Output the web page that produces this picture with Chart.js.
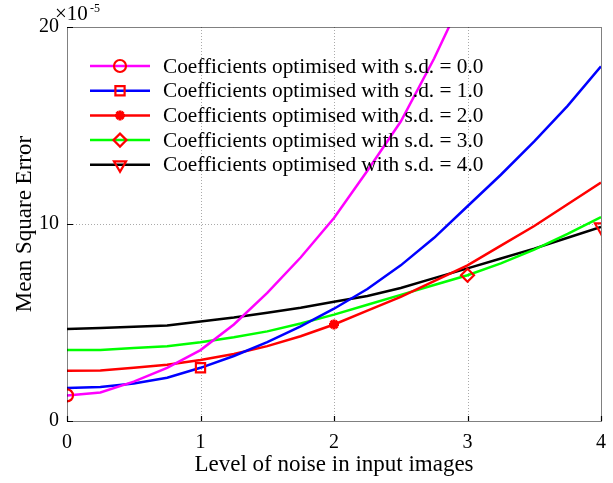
<!DOCTYPE html>
<html>
<head>
<meta charset="utf-8">
<script src="https://cdn.jsdelivr.net/npm/chart.js@4/dist/chart.umd.min.js"></script>
<style>
	html, body { margin: 0; padding: 0; background: #fff; }
	#wrap { width: 613px; height: 483px; }
</style>
</head>
<body>
<div id="wrap"><canvas id="c" width="613" height="483"></canvas></div>
<script>
// noise levels (x)
var noise = [0, 0.25, 0.5, 0.75, 1, 1.25, 1.5, 1.75, 2, 2.25, 2.5, 2.75, 3, 3.25, 3.5, 3.75, 4];

// mean square error, units of 1e-5
var sd0 = [1.3, 1.45, 2.0, 2.7, 3.6, 4.9, 6.5, 8.3, 10.3, 12.7, 15.2, 18.4, 22.0, 26.0, 30.5, 35.5, 41.0];
var sd1 = [1.68, 1.73, 1.9, 2.2, 2.7, 3.3, 4.0, 4.8, 5.7, 6.7, 7.9, 9.3, 10.9, 12.5, 14.2, 16.0, 18.0];
var sd2 = [2.55, 2.56, 2.7, 2.85, 3.1, 3.4, 3.8, 4.3, 4.9, 5.6, 6.3, 7.1, 7.9, 8.9, 9.9, 11.0, 12.1];
var sd3 = [3.6, 3.6, 3.7, 3.8, 4.0, 4.25, 4.55, 4.95, 5.4, 5.9, 6.4, 6.9, 7.4, 8.0, 8.7, 9.5, 10.35];
var sd4 = [4.67, 4.72, 4.78, 4.85, 5.05, 5.25, 5.5, 5.75, 6.05, 6.35, 6.75, 7.25, 7.75, 8.25, 8.75, 9.3, 9.85];

var seriesNames = [
	'Coefficients optimised with s.d. = 0.0',
	'Coefficients optimised with s.d. = 1.0',
	'Coefficients optimised with s.d. = 2.0',
	'Coefficients optimised with s.d. = 3.0',
	'Coefficients optimised with s.d. = 4.0'
];
var markerAt = [0, 1, 2, 3, 4];   // noise level where each series shows its marker
var xTicks = [0, 1, 2, 3, 4];
var yTicks = [0, 10, 20];

var serif = '"Liberation Serif", "DejaVu Serif", serif';

function pts(vals) {
	return vals.map(function(v, i) { return { x: noise[i], y: v }; });
}

function radii(at, r) {
	return noise.map(function(x) { return x === at ? r : 0; });
}

var styles = [
	{ color: '#ff00ff', point: 'circle', r: 6, rot: 0 },
	{ color: '#0000ff', point: 'rect', r: 6.5, rot: 0 },
	{ color: '#ff0000', point: 'star', r: 5, rot: 0 },
	{ color: '#00ff00', point: 'rectRot', r: 6.5, rot: 0 },
	{ color: '#000000', point: 'triangle', r: 7, rot: 180 }
];

var values = [sd0, sd1, sd2, sd3, sd4];

var datasets = values.map(function(v, i) {
	var s = styles[i];
	return {
		label: seriesNames[i],
		data: pts(v),
		borderColor: s.color,
		borderWidth: 2.5,
		pointStyle: s.point,
		pointRotation: s.rot,
		pointRadius: radii(markerAt[i], s.r),
		pointBorderColor: '#ff0000',
		pointBackgroundColor: s.point === 'star' ? '#ff0000' : 'rgba(0,0,0,0)',
		pointBorderWidth: s.point === 'star' ? 3 : 2.2,
		pointHoverRadius: 0,
		tension: 0
	};
});

var frame = {
	id: 'frame',
	beforeDatasetsDraw: function(chart) {
		var ctx = chart.ctx, a = chart.chartArea;
		var xs = chart.scales.x, ys = chart.scales.y;
		ctx.save();
		ctx.strokeStyle = '#aaaaaa';
		ctx.lineWidth = 1;
		ctx.setLineDash([1, 2]);
		ctx.beginPath();
		xTicks.slice(1, -1).forEach(function(t) {
			var px = Math.round(xs.getPixelForValue(t)) + 0.5;
			ctx.moveTo(px, a.top); ctx.lineTo(px, a.bottom);
		});
		yTicks.slice(1, -1).forEach(function(t) {
			var py = Math.round(ys.getPixelForValue(t)) + 0.5;
			ctx.moveTo(a.left, py); ctx.lineTo(a.right, py);
		});
		ctx.stroke();
		ctx.restore();
	},
	afterDraw: function(chart) {
		var ctx = chart.ctx, a = chart.chartArea;
		ctx.save();
		// dotted box
		ctx.strokeStyle = '#000';
		ctx.lineWidth = 1;
		ctx.setLineDash([1, 1]);
		ctx.strokeRect(Math.round(a.left) + 0.5, Math.round(a.top) + 0.5, Math.round(a.right - a.left), Math.round(a.bottom - a.top));
		ctx.setLineDash([]);
		// inward tick marks
		var xs = chart.scales.x, ys = chart.scales.y;
		ctx.lineWidth = 1.2;
		ctx.beginPath();
		xTicks.forEach(function(t) {
			var px = Math.round(xs.getPixelForValue(t)) + 0.5;
			ctx.moveTo(px, a.bottom); ctx.lineTo(px, a.bottom - 5);
		});
		yTicks.forEach(function(t) {
			var py = Math.round(ys.getPixelForValue(t)) + 0.5;
			ctx.moveTo(a.left, py); ctx.lineTo(a.left + 6, py);
		});
		ctx.stroke();
		// exponent label
		ctx.fillStyle = '#000';
		ctx.textBaseline = 'alphabetic';
		ctx.font = '21px ' + serif;
		ctx.fillText('\u00d710', 55, 20);
		ctx.font = '12px ' + serif;
		ctx.fillText('-5', 90, 12);
		// legend
		var lx = 90, ly = 66, step = 24.7;
		chart.data.datasets.forEach(function(ds, i) {
			var y = ly + i * step;
			ctx.strokeStyle = ds.borderColor;
			ctx.lineWidth = 2.5;
			ctx.beginPath();
			ctx.moveTo(lx, y); ctx.lineTo(lx + 60, y);
			ctx.stroke();
			var s = styles[i];
			ctx.strokeStyle = '#ff0000';
			ctx.fillStyle = ds.pointBackgroundColor;
			ctx.lineWidth = ds.pointBorderWidth;
			Chart.helpers.drawPoint(ctx, { pointStyle: s.point, rotation: s.rot, radius: s.r, borderWidth: ds.pointBorderWidth }, lx + 30, y);
			ctx.fillStyle = '#000';
			ctx.font = '21.3px ' + serif;
			ctx.textBaseline = 'middle';
			ctx.fillText(ds.label, 163, y + 1);
		});
		ctx.restore();
	}
};

new Chart(document.getElementById('c'), {
	type: 'line',
	data: { datasets: datasets },
	options: {
		responsive: false,
		animation: false,
		layout: { padding: { left: 0, right: 12, top: 27, bottom: 0 } },
		plugins: { legend: { display: false }, tooltip: { enabled: false } },
		scales: {
			x: {
				type: 'linear', min: 0, max: 4,
				afterBuildTicks: function(s) { s.ticks = xTicks.map(function(v) { return { value: v }; }); },
				afterFit: function(s) { s.height = 62; s.paddingRight = 0; s.paddingLeft = 0; },
				grid: { display: false, drawTicks: false },
				border: { display: false },
				ticks: { color: '#000', font: { family: serif, size: 20 }, padding: 10, maxRotation: 0 },
				title: { display: true, text: 'Level of noise in input images', color: '#000', font: { family: serif, size: 23 }, padding: { top: 0, bottom: 4 } }
			},
			y: {
				type: 'linear', min: 0, max: 20,
				afterBuildTicks: function(s) { s.ticks = yTicks.map(function(v) { return { value: v }; }); },
				afterFit: function(s) { s.width = 67; s.paddingTop = 0; s.paddingBottom = 0; },
				grid: { display: false, drawTicks: false },
				border: { display: false },
				ticks: { color: '#000', font: { family: serif, size: 20 }, padding: 8 },
				title: { display: true, text: 'Mean Square Error', color: '#000', font: { family: serif, size: 23 }, padding: { top: 11, bottom: 0 } }
			}
		}
	},
	plugins: [frame]
});
</script>
</body>
</html>
